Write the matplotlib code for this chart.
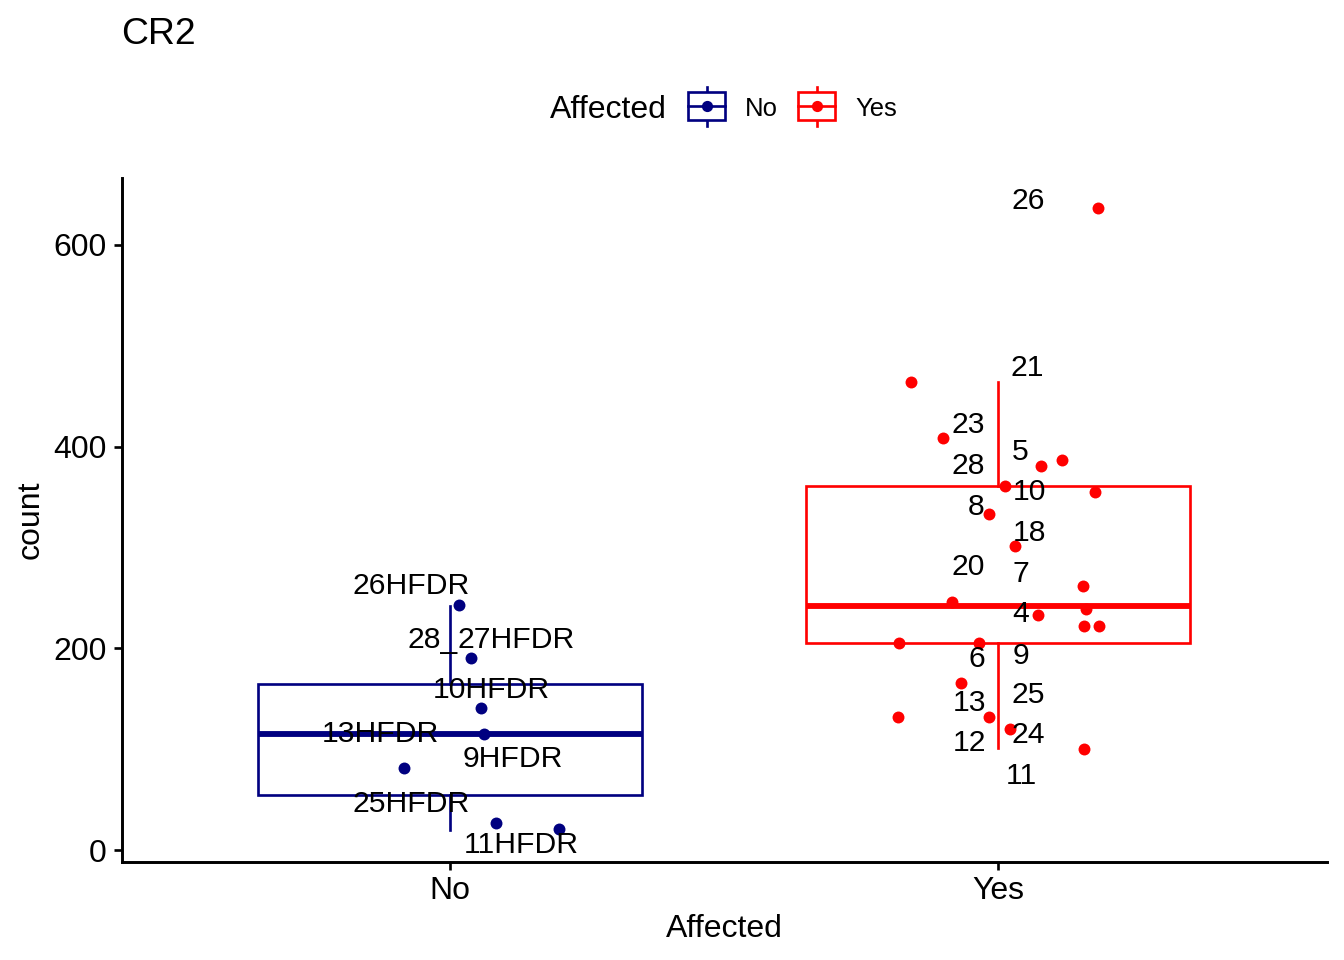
import matplotlib
matplotlib.use("Agg")
import matplotlib.pyplot as plt
from matplotlib.legend_handler import HandlerBase
from matplotlib.patches import Rectangle
from matplotlib.lines import Line2D
import numpy as np

plt.rcParams['font.family'] = ['Liberation Sans', 'DejaVu Sans']

# ---------------- data ----------------
title = "CR2"
groups = ["No", "Yes"]
colors = {"No": "#000080", "Yes": "#FF0000"}

# points: jittered x offset and count
no_jitter = [0.016, 0.038, 0.056, 0.062, -0.084, 0.084, 0.198]
no_count = [243.6, 190.1, 140.6, 114.9, 81.9, 26.7, 21.5]

yes_jitter = [0.182, -0.158, -0.100, 0.079, 0.117, 0.013, 0.177, -0.017,
              0.031, 0.155, -0.083, 0.161, 0.073, 0.157, 0.185, -0.181,
              -0.035, -0.068, -0.182, -0.017, 0.022, 0.158]
yes_count = [636.6, 464.6, 408.6, 380.5, 387.1, 360.7, 354.8, 333.3,
             301.3, 262.4, 246.2, 239.3, 232.9, 222.0, 222.0, 205.6,
             205.6, 165.9, 132.2, 131.7, 120.5, 100.7]

# boxplot statistics
box_whislo = {"No": 20.1, "Yes": 101.6}
box_q1 = {"No": 54.5, "Yes": 205.6}
box_med = {"No": 114.9, "Yes": 242.6}
box_q3 = {"No": 165.3, "Yes": 360.7}
box_whishi = {"No": 242.6, "Yes": 464.0}

# text labels: text, x offset from group centre, y (baseline, data units)
no_labels = ["26HFDR", "28_", "27HFDR", "10HFDR", "13HFDR", "9HFDR", "25HFDR", "11HFDR"]
no_label_dx = [-0.072, -0.032, 0.120, 0.075, -0.128, 0.115, -0.072, 0.129]
no_label_y = [254.4, 200.0, 200.3, 150.5, 107.5, 82.2, 37.6, -3.0]

yes_labels = ["26", "21", "23", "5", "28", "10", "8", "18", "20", "7", "4",
              "6", "9", "25", "13", "24", "12", "11"]
yes_label_dx = [0.0547, 0.0542, -0.0547, 0.0416, -0.0547, 0.0569, -0.0389,
                0.0575, -0.0535, 0.0416, 0.0416, -0.0389, 0.0416, 0.056,
                -0.052, 0.056, -0.052, 0.0423]
yes_label_y = [635.9, 469.6, 413.5, 386.4, 373.3, 346.8, 332.7, 306.2, 272.6,
               265.9, 226.3, 181.2, 185.1, 145.5, 138.2, 105.9, 98.6, 65.6]

yticks = [0, 200, 400, 600]

# ---------------- figure ----------------
fig = plt.figure(figsize=(7, 5), dpi=192)
ax = fig.add_axes([121.5 / 1344, 1 - 861.7 / 960, (1326.5 - 121.5) / 1344, (861.7 - 178) / 960])

positions = {"No": 1, "Yes": 2}
for g in groups:
    stats = [dict(whislo=box_whislo[g], q1=box_q1[g], med=box_med[g],
                  q3=box_q3[g], whishi=box_whishi[g], fliers=[])]
    c = colors[g]
    ax.bxp(stats, positions=[positions[g]], widths=0.7, showcaps=False,
           showfliers=False, patch_artist=True,
           boxprops=dict(facecolor="white", edgecolor=c, linewidth=1.0),
           whiskerprops=dict(color=c, linewidth=1.0),
           medianprops=dict(color=c, linewidth=2.2, solid_capstyle="butt"),
           zorder=1)

ax.scatter(1 + np.array(no_jitter), no_count, s=20, color=colors["No"], zorder=3, linewidths=0)
ax.scatter(2 + np.array(yes_jitter), yes_count, s=20, color=colors["Yes"], zorder=3, linewidths=0)

lab_fs = 11.3
for t, dx, y in zip(no_labels, no_label_dx, no_label_y):
    ax.text(1 + dx, y, t, ha="center", va="baseline", fontsize=lab_fs, color="black", zorder=4)
for t, dx, y in zip(yes_labels, yes_label_dx, yes_label_y):
    ax.text(2 + dx, y, t, ha="center", va="baseline", fontsize=lab_fs, color="black", zorder=4)

ax.set_xlim(0.4, 2.6)
ax.set_ylim(-11.3, 666.3)
ax.set_xticks([1, 2])
ax.set_xticklabels(groups)
ax.set_yticks(yticks)
ax.tick_params(axis="both", labelsize=12, length=3.0, width=1.0, color="black",
               labelcolor="black", pad=2.5)
for s in ["top", "right"]:
    ax.spines[s].set_visible(False)
for s in ["left", "bottom"]:
    ax.spines[s].set_linewidth(1.1)
ax.set_xlabel("Affected", fontsize=12, labelpad=3)
ax.set_ylabel("count", fontsize=12, labelpad=3)

fig.text(121.5 / 1344, 1 - 35 / 960, title, fontsize=14, ha="left", va="center")


# legend with boxplot-like keys
class BoxHandler(HandlerBase):
    def __init__(self, color):
        super().__init__()
        self.color = color

    def create_artists(self, legend, orig_handle, xdescent, ydescent, width, height, fontsize, trans):
        c = self.color
        h = height
        box_lo, box_hi = -0.2 * h, 1.2 * h
        artists = []
        cx = width / 2
        artists.append(Line2D([cx, cx], [-0.5 * h, box_lo], color=c, lw=1.0, transform=trans))
        artists.append(Line2D([cx, cx], [box_hi, 1.5 * h], color=c, lw=1.0, transform=trans))
        artists.append(Rectangle((0, box_lo), width, box_hi - box_lo, facecolor="white",
                                 edgecolor=c, lw=1.0, transform=trans))
        artists.append(Line2D([0, width], [h / 2, h / 2], color=c, lw=1.0, transform=trans))
        artists.append(Line2D([cx], [h / 2], marker="o", markersize=4.2, color=c,
                              markeredgewidth=0, transform=trans))
        return artists


h_no = Line2D([], [], color=colors["No"])
h_yes = Line2D([], [], color=colors["Yes"])
fig.text(550 / 1344, 1 - 110 / 960, "Affected", fontsize=12, ha="left", va="center")
leg = fig.legend([h_no, h_yes], groups, loc="center left",
                 bbox_to_anchor=(688 / 1344, 1 - 109 / 960), ncol=2, frameon=False,
                 fontsize=9.6, handlelength=1.45, handleheight=0.8,
                 handletextpad=0.78, columnspacing=0.78, borderpad=0, borderaxespad=0,
                 handler_map={h_no: BoxHandler(colors["No"]), h_yes: BoxHandler(colors["Yes"])})

fig.savefig("out.png", dpi=192)
